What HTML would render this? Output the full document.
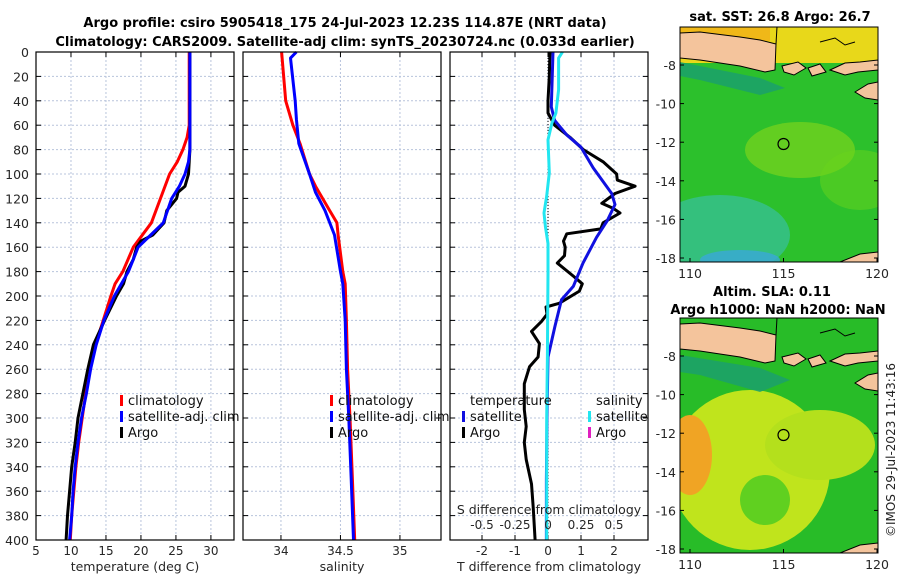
<!DOCTYPE html>
<html><head><meta charset="utf-8">
<style>
body{margin:0;background:#fff;}
svg{display:block;font-family:"DejaVu Sans","Liberation Sans",sans-serif;}
</style></head>
<body>
<svg id="fig" width="900" height="580" viewBox="0 0 900 580">
<text x="345" y="27" text-anchor="middle" font-size="13" font-weight="bold">Argo profile: csiro 5905418_175 24-Jul-2023 12.23S 114.87E (NRT data)</text>
<text x="345" y="46" text-anchor="middle" font-size="13" font-weight="bold">Climatology: CARS2009. Satellite-adj clim: synTS_20230724.nc (0.033d earlier)</text>
<text x="780" y="21" text-anchor="middle" font-size="13" font-weight="bold">sat. SST: 26.8 Argo: 26.7</text>
<text x="772" y="296" text-anchor="middle" font-size="13" font-weight="bold">Altim. SLA: 0.11</text>
<text x="778" y="314" text-anchor="middle" font-size="13" font-weight="bold">Argo h1000: NaN h2000: NaN</text>
<text transform="translate(895,450) rotate(-90)" text-anchor="middle" font-size="12" fill="#222">©IMOS 29-Jul-2023 11:43:16</text>
<g id="plots"></g>
</svg>
<script>
// ---- data (depth in m) ----
const climTDepth=[0,60,70,80,90,100,120,140,160,180,190,200,220,240,260,280,300,320,340,360,380,400];
const climT=[26.9,26.9,26.6,26.0,25.2,24.1,22.8,21.5,18.9,17.4,16.3,15.7,14.6,13.5,12.7,12.1,11.6,11.1,10.7,10.4,10.1,9.9];
const satTDepth=[0,80,90,100,110,120,130,140,150,160,170,180,190,200,220,240,260,280,300,320,340,360,380,400];
const satT=[27.0,27.0,26.8,26.3,25.5,24.4,23.8,23.2,21.4,19.6,18.9,18.2,17.2,16.2,14.7,13.6,12.8,12.2,11.5,11.0,10.6,10.3,10.1,9.8];
const argoTDepth=[0,80,90,100,110,115,120,130,140,150,155,160,170,180,190,200,220,240,260,280,300,320,340,360,380,400];
const argoT=[27.0,27.0,26.9,26.8,26.3,25.3,25.1,23.7,23.3,21.7,20.0,19.4,18.9,18.0,17.5,16.5,14.8,13.2,12.4,11.7,11.0,10.6,10.1,9.8,9.5,9.3];

const climSDepth=[0,40,60,75,100,110,130,140,150,180,190,220,260,300,350,400];
const climS=[34.005,34.04,34.10,34.16,34.24,34.29,34.41,34.47,34.48,34.52,34.54,34.55,34.56,34.58,34.60,34.62];
const satSDepth=[0,5,40,55,75,100,115,130,150,180,190,220,260,300,350,400];
const satS=[34.13,34.08,34.12,34.13,34.15,34.24,34.29,34.37,34.45,34.50,34.52,34.54,34.55,34.57,34.59,34.61];

const satDTDepth=[0,45,56,68,78,95,116,125,138,152,173,192,203,225,250,300,350,400];
const satDT=[0.15,0.1,0.2,0.57,1.0,1.37,1.93,2.03,1.8,1.47,1.06,0.77,0.41,0.21,0,-0.03,-0.05,-0.05];
const argoDTDepth=[0,20,40,50,60,70,80,90,100,105,110,116,124,128,132,140,145,149,155,160,167,173,184,190,196,206,209,215,221,229,239,250,258,272,293,307,320,334,354,373,400];
const argoDT=[0.06,0.04,0,0,0.2,0.67,1.07,1.67,2.08,2.1,2.64,2.03,1.63,1.97,2.18,1.67,1.6,0.57,0.47,0.52,0.5,0.28,0.78,1.04,0.95,0.34,-0.06,-0.03,-0.2,-0.5,-0.26,-0.3,-0.56,-0.72,-0.72,-0.66,-0.72,-0.66,-0.5,-0.45,-0.39];
const satDSDepth=[0,5,31,50,58,72,99,118,132,143,157,181,250,300,400];
const satDS=[0.11,0.08,0.08,0.06,0.03,0,0.01,-0.01,-0.03,-0.02,0,0,-0.005,-0.01,-0.01];

const depthTicks=[0,20,40,60,80,100,120,140,160,180,200,220,240,260,280,300,320,340,360,380,400];
const tTicks=[5,10,15,20,25,30];
const sTicks=[34,34.5,35];
const dTTicks=[-2,-1,0,1,2];
const dSTicks=[-0.5,-0.25,0,0.25,0.5];

const NS="http://www.w3.org/2000/svg";
const root=document.getElementById('plots');
function el(tag,attrs,parent){const e=document.createElementNS(NS,tag);for(const k in attrs)e.setAttribute(k,attrs[k]);(parent||root).appendChild(e);return e;}
const Y0=52,Y1=540;
const yD=d=>Y0+(Y1-Y0)*d/400;

function panel(name,x0,x1,xmin,xmax,ticks,label,tickFmt){
  const g=el('g',{});
  
  
  const sx=v=>x0+(x1-x0)*(v-xmin)/(xmax-xmin);
  depthTicks.forEach(d=>{
    const l=el('line',{x1:x0,x2:x1,y1:yD(d),y2:yD(d),stroke:'#b8c4dc','stroke-width':1,'stroke-dasharray':'2,2'},g);
    
    
    el('line',{x1:x0,x2:x0+5,y1:yD(d),y2:yD(d),stroke:'#000'},g);
    el('line',{x1:x1,x2:x1-5,y1:yD(d),y2:yD(d),stroke:'#000'},g);
  });
  ticks.forEach(t=>{
    const x=sx(t);
    el('line',{x1:x,x2:x,y1:Y0,y2:Y1,stroke:'#b8c4dc','stroke-width':1,'stroke-dasharray':'2,2'},g);
    el('line',{x1:x,x2:x,y1:Y1,y2:Y1-5,stroke:'#000'},g);
    el('line',{x1:x,x2:x,y1:Y0,y2:Y0+5,stroke:'#000'},g);
    const tx=el('text',{x:x,y:Y1+15,'text-anchor':'middle','font-size':12,fill:'#262626'},g);
    tx.textContent=tickFmt?tickFmt(t):t;
    
    
  });
  const lb=el('text',{x:(x0+x1)/2,y:Y1+31,'text-anchor':'middle','font-size':12.5,fill:'#262626'},g);
  lb.textContent=label;
  
  
  return {g,sx};
}
function series(p,name,xs,ds,color,w){
  const pts=xs.map((v,i)=>p.sx(v).toFixed(1)+','+yD(ds[i]).toFixed(1)).join(' ');
  const pl=el('polyline',{points:pts,fill:'none',stroke:color,'stroke-width':w||3,'stroke-linejoin':'round'},p.g);
  
  
}
function frame(p,x0,x1){el('rect',{x:x0,y:Y0,width:x1-x0,height:Y1-Y0,fill:'none',stroke:'#000','stroke-width':1.2},p.g);}
function legend(p,x,y,items){
  items.forEach((it,i)=>{
    if(it.c){el('rect',{x:x,y:y+i*16-10,width:3,height:11,fill:it.c},p.g);}
    const t=el('text',{x:x+(it.c?8:0),y:y+i*16,'font-size':13,fill:'#111'},p.g);
    t.textContent=it.t;
    
    
  });
}
depthTicks.forEach(d=>{
  const t=el('text',{x:29,y:yD(d)+5,'text-anchor':'end','font-size':12.5,fill:'#262626'});
  t.textContent=d;
  
  
});

const p1=panel('temperature-panel',36,234,5,33.3,tTicks,'temperature (deg C)');
series(p1,'clim-temperature-line',climT,climTDepth,'#ff0000');
series(p1,'argo-temperature-line',argoT,argoTDepth,'#000000');
series(p1,'sat-temperature-line',satT,satTDepth,'#0000ff');
legend(p1,120,405,[{t:'climatology',c:'#f00'},{t:'satellite-adj. clim',c:'#00f'},{t:'Argo',c:'#000'}]);
frame(p1,36,234);

const p2=panel('salinity-panel',243,441,33.681,35.345,sTicks,'salinity');
series(p2,'clim-salinity-line',climS,climSDepth,'#ff0000');
series(p2,'sat-salinity-line',satS,satSDepth,'#0000ff');
legend(p2,330,405,[{t:'climatology',c:'#f00'},{t:'satellite-adj. clim',c:'#00f'},{t:'Argo',c:'#000'}]);
frame(p2,243,441);

const p3=panel('difference-panel',450,648,-2.97,3.03,dTTicks,'T difference from climatology');
el('line',{x1:p3.sx(0),x2:p3.sx(0),y1:Y0,y2:Y1,stroke:'#000','stroke-width':1,'stroke-dasharray':'1,2'},p3.g);
const p3s={g:p3.g,sx:v=>p3.sx(v*4)};
series(p3,'argo-tdiff-line',argoDT,argoDTDepth,'#000000');
series(p3,'sat-tdiff-line',satDT,satDTDepth,'#1010e0');
series(p3s,'sat-sdiff-line',satDS,satDSDepth,'#22e6f0');
dSTicks.forEach(t=>{
  const tx=el('text',{x:p3s.sx(t),y:529,'text-anchor':'middle','font-size':12,fill:'#262626'},p3.g);
  tx.textContent=t;
  
  
});
const sl=el('text',{x:549,y:514,'text-anchor':'middle','font-size':12.5,fill:'#262626'},p3.g);
sl.textContent='S difference from climatology';


legend(p3,470,405,[{t:'temperature'}]);
legend(p3,462,421,[{t:'satellite',c:'#1010e0'},{t:'Argo',c:'#000'}]);
legend(p3,596,405,[{t:'salinity'}]);
legend(p3,588,421,[{t:'satellite',c:'#22e6f0'},{t:'Argo',c:'#e020c0'}]);
frame(p3,450,648);

function map(name,y0,kind){
  const g=el('g',{});
  
  
  const x0=680,x1=878,y1=y0+235;
  const id='c'+kind;
  const defs=el('defs',{},g);
  const cp=el('clipPath',{id:id},defs);
  el('rect',{x:x0,y:y0,width:198,height:235},cp);
  const inner=el('g',{'clip-path':'url(#'+id+')'},g);
  if(kind==='sst'){
    el('rect',{x:x0,y:y0,width:198,height:235,fill:'#2cc02c'},inner);
    el('rect',{x:x0,y:y0,width:198,height:36,fill:'#e8d81a'},inner);
    el('rect',{x:x0,y:y0,width:90,height:14,fill:'#f0b818'},inner);
    el('ellipse',{cx:720,cy:235,rx:70,ry:40,fill:'#38c0a0',opacity:0.7},inner);
    el('ellipse',{cx:740,cy:260,rx:40,ry:10,fill:'#3aa8d8',opacity:0.8},inner);
    el('ellipse',{cx:800,cy:150,rx:55,ry:28,fill:'#7ad41c',opacity:0.7},inner);
    el('ellipse',{cx:860,cy:180,rx:40,ry:30,fill:'#6ad41c',opacity:0.5},inner);
    el('path',{d:'M680 62 L760 78 L785 88 L760 95 L700 80 L680 76Z',fill:'#1a9e70',opacity:0.8},inner);
  } else {
    el('rect',{x:x0,y:y0,width:198,height:235,fill:'#28bc28'},inner);
    el('ellipse',{cx:750,cy:470,rx:80,ry:80,fill:'#c0e41c'},inner);
    el('ellipse',{cx:820,cy:445,rx:55,ry:35,fill:'#b4e01c'},inner);
    el('ellipse',{cx:690,cy:455,rx:22,ry:40,fill:'#f0a424'},inner);
    el('ellipse',{cx:765,cy:500,rx:25,ry:25,fill:'#60d020'},inner);
    el('path',{d:'M680 355 L760 368 L790 380 L760 392 L700 375 L680 372Z',fill:'#1a9e70',opacity:0.8},inner);
  }
  const o=y0-27;
  el('path',{d:`M680 ${o+58} L700 ${o+60} L740 ${o+66} L765 ${o+72} L775 ${o+70} L776 ${o+44} L760 ${o+40} L740 ${o+37} L700 ${o+32} L680 ${o+33}Z`,fill:'#f4c49c',stroke:'#000','stroke-width':1},inner);
  el('path',{d:`M776 ${o+44} L777 ${o+27}`,fill:'none',stroke:'#000'},inner);
  el('path',{d:`M782 ${o+66} L798 ${o+62} L806 ${o+68} L794 ${o+75} L784 ${o+72}Z`,fill:'#f4c49c',stroke:'#000'},inner);
  el('path',{d:`M808 ${o+68} L820 ${o+64} L826 ${o+72} L812 ${o+76}Z`,fill:'#f4c49c',stroke:'#000'},inner);
  el('path',{d:`M830 ${o+70} L845 ${o+63} L860 ${o+62} L878 ${o+60} L878 ${o+70} L858 ${o+72} L845 ${o+75}Z`,fill:'#f4c49c',stroke:'#000'},inner);
  el('path',{d:`M855 ${o+92} L868 ${o+84} L878 ${o+82} L878 ${o+100} L865 ${o+98}Z`,fill:'#f4c49c',stroke:'#000'},inner);
  el('path',{d:`M840 ${y1} L860 ${y1-8} L878 ${y1-10} L878 ${y1}Z`,fill:'#f4c49c',stroke:'#000'},inner);
  el('path',{d:`M820 ${o+42} L835 ${o+38} L845 ${o+45} L855 ${o+42}`,fill:'none',stroke:'#000'},inner);
  const c=el('circle',{cx:783.5,cy:y0+117,r:5.5,fill:'none',stroke:'#000','stroke-width':1.2},g);
  
  
  el('rect',{x:x0,y:y0,width:198,height:235,fill:'none',stroke:'#000'},g);
  [-8,-10,-12,-14,-16,-18].forEach(l=>{
    const y=y0+38+(l+8)*-19.3;
    el('line',{x1:x0,x2:x0+4,y1:y,y2:y,stroke:'#000'},g);
    el('line',{x1:x1,x2:x1-4,y1:y,y2:y,stroke:'#000'},g);
    const t=el('text',{x:x0-4,y:y+5,'text-anchor':'end','font-size':12.5,fill:'#262626'},g);
    t.textContent=l;
    
    
  });
  [110,115,120].forEach(lo=>{
    const x=690+(lo-110)*18.7;
    el('line',{x1:x,x2:x,y1:y1,y2:y1-4,stroke:'#000'},g);
    const t=el('text',{x:x,y:y1+16,'text-anchor':'middle','font-size':12.5,fill:'#262626'},g);
    t.textContent=lo;
    
    
  });
}
map('sst-map',27,'sst');
map('sla-map',318,'sla');
</script>
</body></html>
